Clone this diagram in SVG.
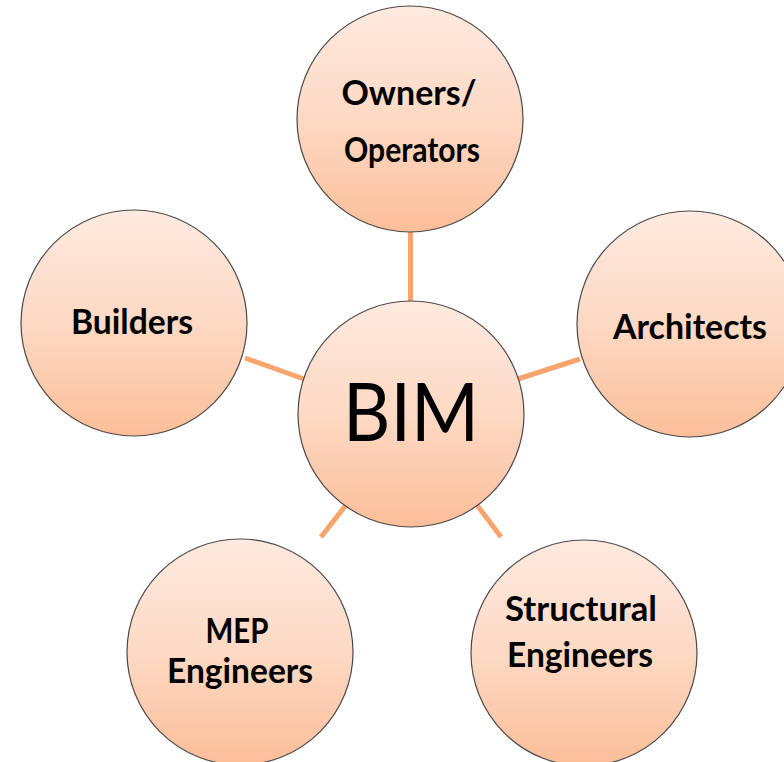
<svg xmlns="http://www.w3.org/2000/svg" width="784" height="762" viewBox="0 0 784 762">
<style>
.node{fill:url(#g);stroke:#4a4a4a;stroke-width:1.2}
.lbl{font-family:Lato,"Liberation Sans",sans-serif;font-weight:bold;font-size:34px;fill:#000;text-anchor:middle}
.big{font-family:Lato,"Liberation Sans",sans-serif;font-size:82px;fill:#000;text-anchor:middle}
.conn line{stroke:#f8a56d;stroke-width:5}
</style>
<defs>
<linearGradient id="g" x1="0" y1="0" x2="0" y2="1">
<stop offset="0" stop-color="#feeadf"/>
<stop offset="0.5" stop-color="#fdd9c4"/>
<stop offset="1" stop-color="#fbbe99"/>
</linearGradient>
</defs>
<rect width="784" height="762" fill="#fff"/>
<g id="connectors" class="conn">
<line x1="410.5" y1="232" x2="410.5" y2="302"/>
<line x1="245" y1="358" x2="304" y2="379"/>
<line x1="518" y1="379" x2="580" y2="359"/>
<line x1="346" y1="505" x2="321" y2="537"/>
<line x1="477" y1="505" x2="501" y2="537"/>
</g>
<g id="owners">
<circle class="node" cx="410" cy="119" r="113"/>
<text class="lbl" x="409" y="105" textLength="135" lengthAdjust="spacingAndGlyphs">Owners/</text>
<text class="lbl" x="412" y="162" textLength="136" lengthAdjust="spacingAndGlyphs">Operators</text>
</g>
<g id="builders">
<circle class="node" cx="134" cy="323" r="113"/>
<text class="lbl" x="132" y="334" textLength="122" lengthAdjust="spacingAndGlyphs">Builders</text>
</g>
<g id="architects">
<circle class="node" cx="690" cy="324" r="113"/>
<text class="lbl" x="690" y="339" textLength="154" lengthAdjust="spacingAndGlyphs">Architects</text>
</g>
<g id="bim">
<circle class="node" cx="411" cy="414" r="113"/>
<text class="big" x="411" y="441" textLength="136" lengthAdjust="spacingAndGlyphs">BIM</text>
</g>
<g id="mep">
<circle class="node" cx="240" cy="652" r="113"/>
<text class="lbl" x="237" y="643" textLength="63" lengthAdjust="spacingAndGlyphs">MEP</text>
<text class="lbl" x="240" y="683" textLength="146" lengthAdjust="spacingAndGlyphs">Engineers</text>
</g>
<g id="structural">
<circle class="node" cx="584" cy="653" r="113"/>
<text class="lbl" x="581" y="621" textLength="152" lengthAdjust="spacingAndGlyphs">Structural</text>
<text class="lbl" x="580" y="667" textLength="146" lengthAdjust="spacingAndGlyphs">Engineers</text>
</g>
</svg>
